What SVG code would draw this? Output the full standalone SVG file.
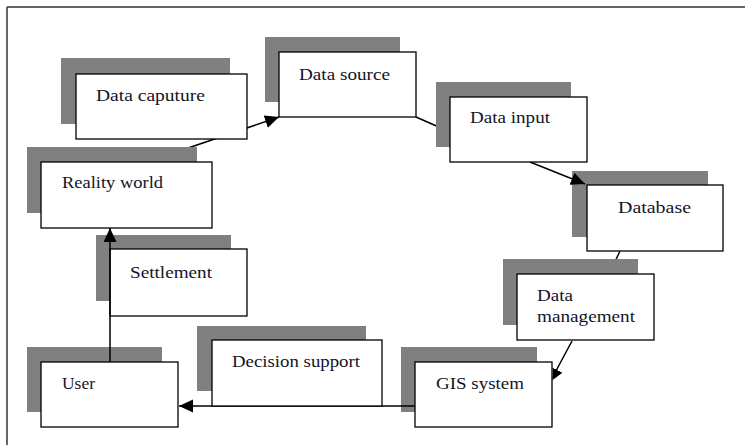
<svg xmlns="http://www.w3.org/2000/svg" width="745" height="445" viewBox="0 0 745 445">
<style>
.sh{fill:#808080;stroke:none}
.bx{fill:#ffffff;stroke:#000000;stroke-width:1.3}
.t{font-family:'Liberation Serif','DejaVu Serif',serif;font-size:17px;fill:#141428}
.c{fill:none;stroke:#000000;stroke-width:1.5}
.frame{stroke:#333333;stroke-width:1.5;fill:none}
</style>
<defs>
<marker id="ah" markerUnits="userSpaceOnUse" markerWidth="16" markerHeight="14" refX="14" refY="6.5" orient="auto">
<path d="M0,0 L14,6.5 L0,13 Z" fill="#000000"/>
</marker>
<clipPath id="clipR"><rect x="552.7" y="0" width="200" height="445"/></clipPath>
</defs>
<rect x="0" y="0" width="745" height="445" fill="#ffffff"/>
<g id="frame">
<line class="frame" x1="7" y1="7" x2="745" y2="7"/>
<line class="frame" x1="7" y1="7" x2="7" y2="445"/>
</g>
<g id="node-database">
<rect class="sh" x="572" y="171" width="136" height="66"/>
<rect class="bx" x="587" y="185" width="136" height="66"/>
<text class="t" x="618" y="213" textLength="73" lengthAdjust="spacingAndGlyphs">Database</text>
</g>
<g id="node-settlement">
<rect class="sh" x="96" y="235" width="135" height="66"/>
<rect class="bx" x="110" y="249" width="137" height="67"/>
<text class="t" x="130" y="278" textLength="82" lengthAdjust="spacingAndGlyphs">Settlement</text>
</g>
<g id="node-user">
<rect class="sh" x="27" y="347" width="135" height="65"/>
<rect class="bx" x="41" y="362" width="137" height="65"/>
<text class="t" x="62" y="389" textLength="33" lengthAdjust="spacingAndGlyphs">User</text>
</g>
<g id="node-gis">
<rect class="sh" x="401" y="347" width="136" height="65"/>
<rect class="bx" x="415" y="362" width="137" height="65"/>
<text class="t" x="436" y="389" textLength="88" lengthAdjust="spacingAndGlyphs">GIS system</text>
</g>
<g id="connectors">
<line class="c" x1="147" y1="162" x2="279" y2="117" marker-end="url(#ah)"/>
<line class="c" x1="416" y1="117" x2="450" y2="132"/>
<line class="c" x1="530" y1="162" x2="585" y2="184" marker-end="url(#ah)"/>
<line class="c" x1="620" y1="251" x2="612" y2="268"/>
<line class="c" x1="572" y1="341" x2="550" y2="382" marker-end="url(#ah)" clip-path="url(#clipR)"/>
<line class="c" x1="415" y1="406" x2="179" y2="406" marker-end="url(#ah)"/>
<line class="c" x1="110" y1="362" x2="110" y2="228" marker-end="url(#ah)"/>
</g>
<g id="node-data-caputure">
<rect class="sh" x="61" y="58" width="169" height="66"/>
<rect class="bx" x="76" y="74" width="171" height="65"/>
<text class="t" x="96" y="101" textLength="109" lengthAdjust="spacingAndGlyphs">Data caputure</text>
</g>
<g id="node-data-source">
<rect class="sh" x="265" y="37" width="135" height="65"/>
<rect class="bx" x="279" y="52" width="137" height="65"/>
<text class="t" x="299" y="80" textLength="91" lengthAdjust="spacingAndGlyphs">Data source</text>
</g>
<g id="node-data-input">
<rect class="sh" x="436" y="82" width="135" height="65"/>
<rect class="bx" x="450" y="97" width="137" height="65"/>
<text class="t" x="470" y="123" textLength="80" lengthAdjust="spacingAndGlyphs">Data input</text>
</g>
<g id="node-data-management">
<rect class="sh" x="503" y="259" width="135" height="66"/>
<rect class="bx" x="517" y="274" width="137" height="66"/>
<text class="t" x="537" y="301" textLength="36" lengthAdjust="spacingAndGlyphs">Data</text>
<text class="t" x="537" y="322" textLength="98" lengthAdjust="spacingAndGlyphs">management</text>
</g>
<g id="node-decision-support">
<rect class="sh" x="197" y="326" width="169" height="65"/>
<rect class="bx" x="212" y="340" width="170" height="66"/>
<text class="t" x="232" y="367" textLength="128" lengthAdjust="spacingAndGlyphs">Decision support</text>
</g>
<g id="node-reality-world">
<rect class="sh" x="27" y="147" width="170" height="66"/>
<rect class="bx" x="41" y="162" width="171" height="66"/>
<text class="t" x="62" y="188" textLength="101" lengthAdjust="spacingAndGlyphs">Reality world</text>
</g>
</svg>
